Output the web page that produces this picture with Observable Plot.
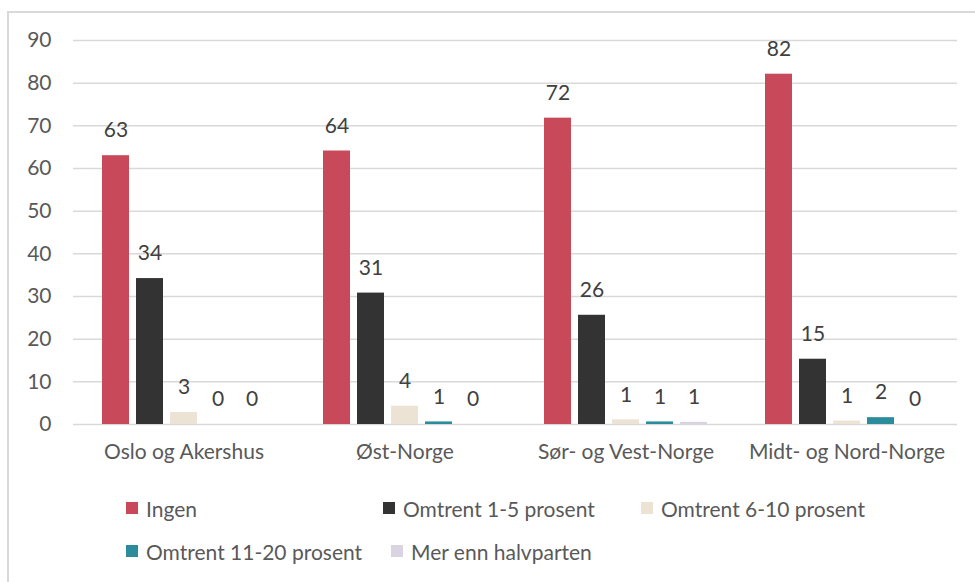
<!DOCTYPE html>
<html>
<head>
<meta charset="utf-8">
<script src="https://cdn.jsdelivr.net/npm/d3@7"></script>
<script src="https://cdn.jsdelivr.net/npm/@observablehq/plot@0.6"></script>
<style>
  body { margin: 0; background: #fff; font-family: Lato, "Open Sans", sans-serif; }
  #wrap { position: relative; width: 975px; height: 582px; overflow: hidden; }
  #frame { position: absolute; left: 7px; top: 11px; width: 1000px; height: 700px;
           border-left: 2px solid #d9d9d9; border-top: 2px solid #d9d9d9; }
  #chart { position: absolute; left: 0; top: 0; }
  .leg { position: absolute; display: flex; align-items: center; font-size: 21px; color: #595959; white-space: nowrap; }
  .sw { width: 12px; height: 12px; margin-right: 8px; }
</style>
</head>
<body>
<div id="wrap">
  <div id="frame"></div>
  <div id="chart"></div>
</div>
<script>
const regions = ["Oslo og Akershus", "Øst-Norge", "Sør- og Vest-Norge", "Midt- og Nord-Norge"];
const series = ["Ingen", "Omtrent 1-5 prosent", "Omtrent 6-10 prosent", "Omtrent 11-20 prosent", "Mer enn halvparten"];
const colors = ["#c8495a", "#333333", "#ede3d5", "#2b8c9b", "#dad3e1"];
const ingen      = [63.0, 64.1, 71.8, 82.1];
const omtrent1_5 = [34.2, 30.8, 25.6, 15.3];
const omtrent6_10 = [2.8, 4.3, 1.1, 0.8];
const omtrent11_20 = [0, 0.6, 0.6, 1.6];
const merEnnHalvparten = [0, 0, 0.5, 0];
const yTicks = [0, 10, 20, 30, 40, 50, 60, 70, 80, 90];

const seriesValues = [ingen, omtrent1_5, omtrent6_10, omtrent11_20, merEnnHalvparten];
const rows = [];
regions.forEach((r, i) => series.forEach((s, j) => rows.push({region: r, series: s, value: seriesValues[j][i]})));

const chart = Plot.plot({
  width: 975,
  height: 480,
  marginLeft: 72,
  marginRight: 18,
  marginTop: 40,
  marginBottom: 56,
  style: {fontFamily: "Lato, 'Open Sans', sans-serif", fontSize: "21px", color: "#595959", background: "transparent"},
  fx: {domain: regions, padding: 0, axis: "bottom", tickSize: 0, tickPadding: 20, label: null},
  x: {domain: series, axis: null, paddingInner: 0.2, paddingOuter: 0.85},
  y: {domain: [0, 90], ticks: yTicks, tickSize: 0, tickPadding: 22, label: null, tickFormat: d => String(d)},
  color: {domain: series, range: colors},
  marks: [
    Plot.ruleY(yTicks, {stroke: "#d9d9d9", strokeWidth: 1.5}),
    Plot.barY(rows, {fx: "region", x: "series", y: "value", fill: "series"}),
    Plot.text(rows, {fx: "region", x: "series", y: "value", text: d => String(Math.round(d.value)),
      dy: -25, lineAnchor: "middle", fill: "#404040", fontSize: 21})
  ]
});
document.getElementById("chart").appendChild(chart);

// Legend
const legPos = [[126, 508], [383, 508], [641, 508], [126, 551], [391, 551]];
const wrap = document.getElementById("wrap");
series.forEach((s, i) => {
  const d = document.createElement("div");
  d.className = "leg";
  d.style.left = legPos[i][0] + "px";
  d.style.top = (legPos[i][1] - 13) + "px";
  d.style.height = "26px";
  const sw = document.createElement("span");
  sw.className = "sw";
  sw.style.background = colors[i];
  const t = document.createElement("span");
  t.textContent = s;
  d.appendChild(sw); d.appendChild(t);
  wrap.appendChild(d);
});
</script>
</body>
</html>
